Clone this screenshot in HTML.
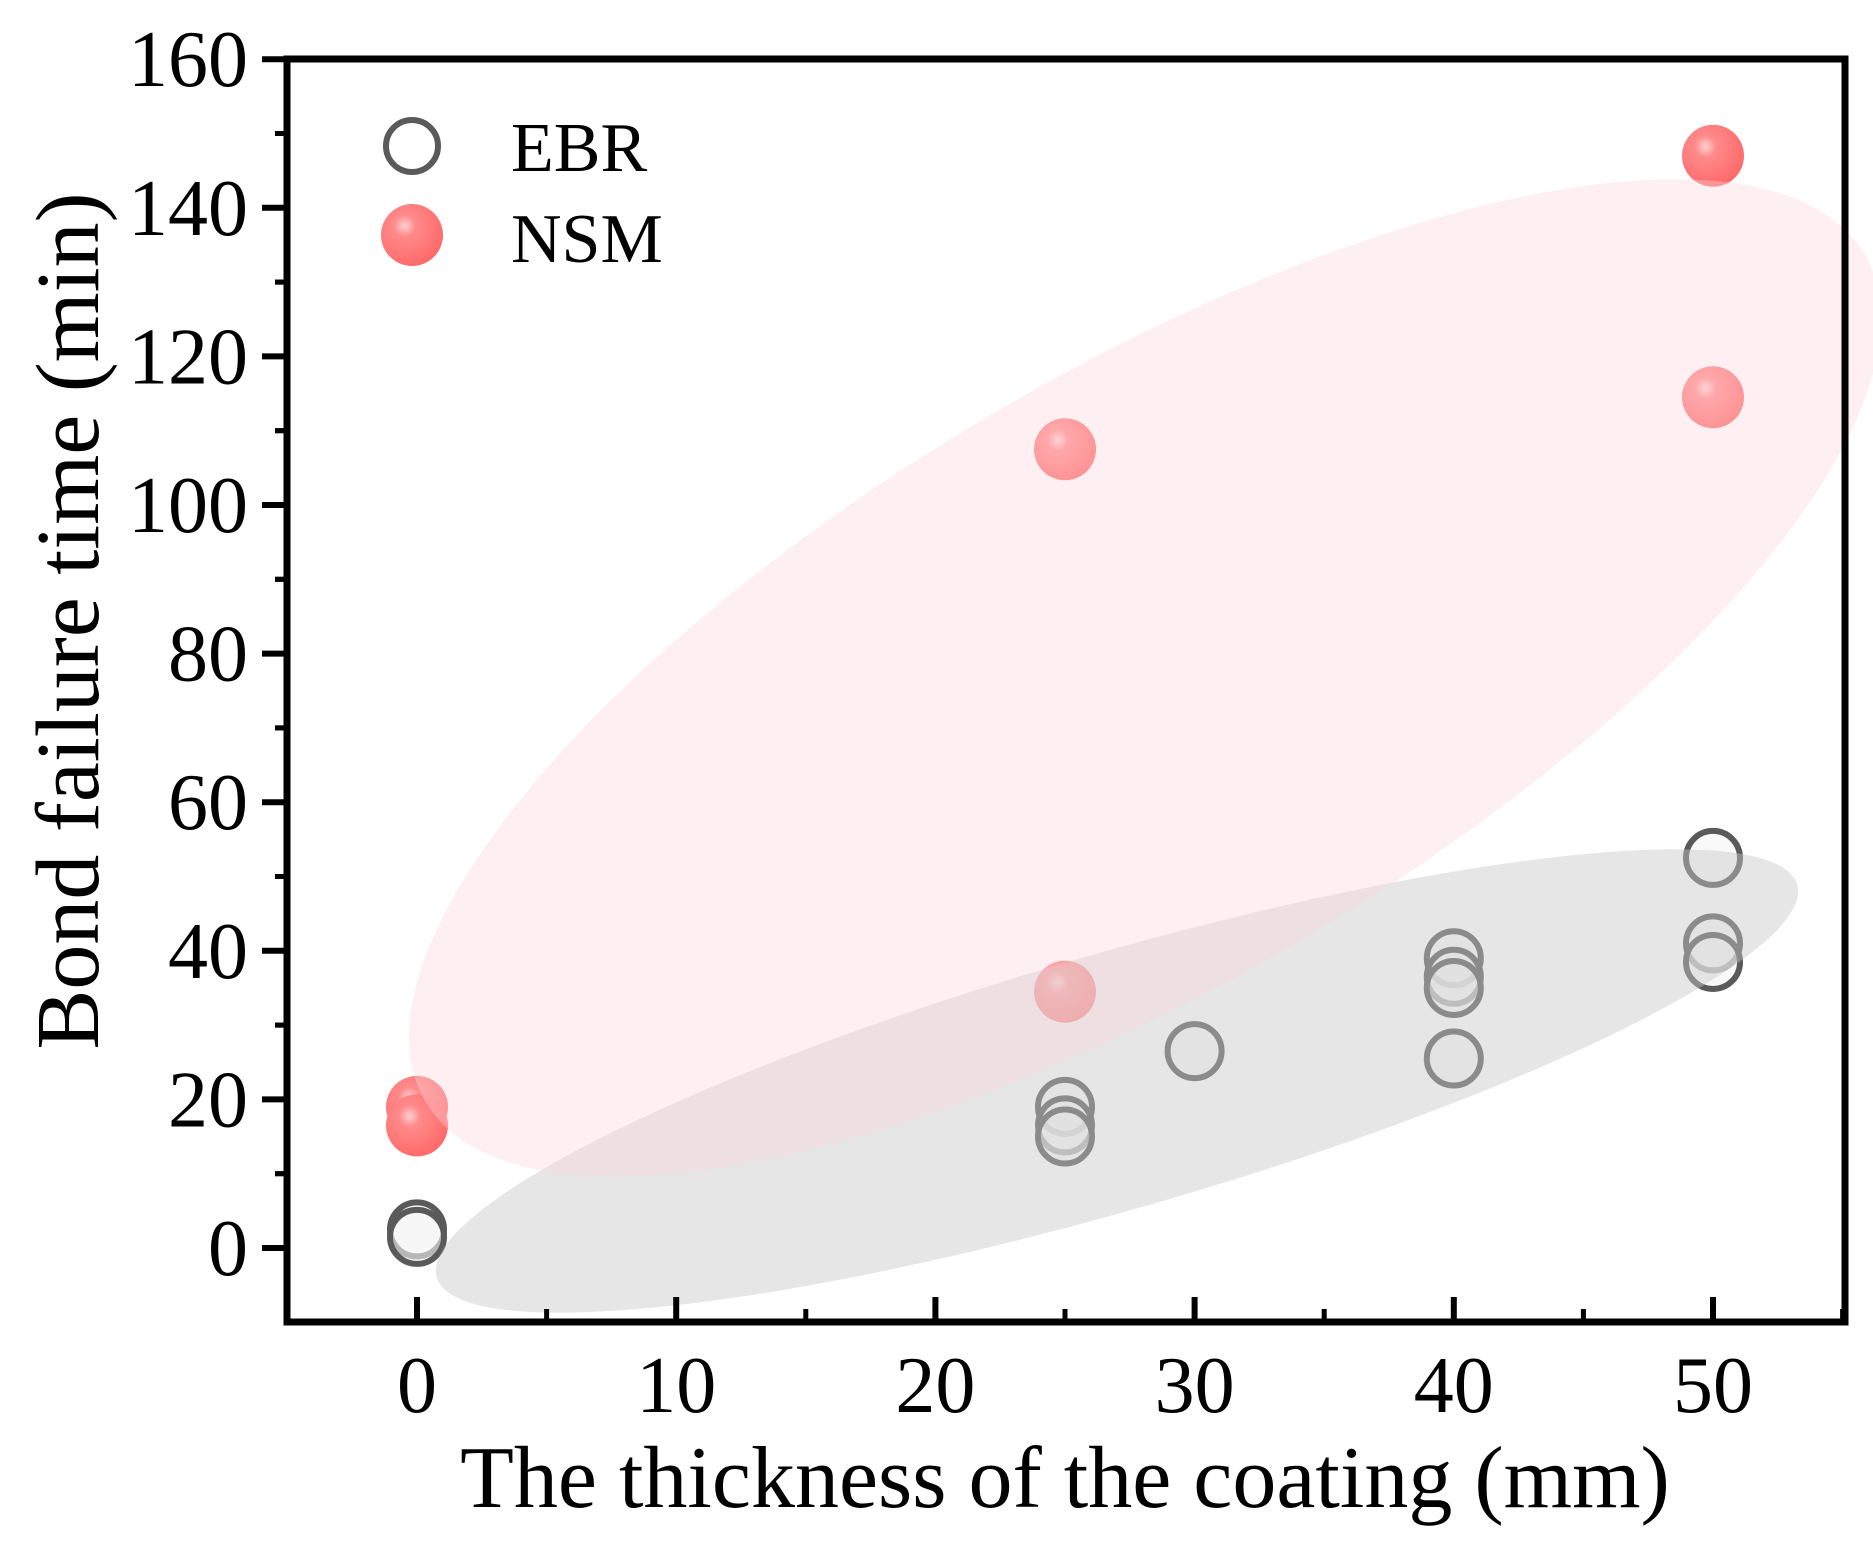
<!DOCTYPE html>
<html><head><meta charset="utf-8"><style>
html,body{margin:0;padding:0;background:#fff;}
svg{display:block;font-family:"Liberation Serif",serif;}
</style></head><body>
<svg id="chart" width="1873" height="1550" viewBox="0 0 1873 1550" xmlns="http://www.w3.org/2000/svg">
<defs>
<radialGradient id="redball" cx="0.38" cy="0.35" r="0.7">
<stop offset="0" stop-color="#ffd0d0"/>
<stop offset="0.25" stop-color="#ff8a8a"/>
<stop offset="1" stop-color="#ff6868"/>
</radialGradient>
</defs>
<g id="marks"></g>
<g id="overlays"></g>
<g id="axes"></g>
</svg>
<script>
const xTicks = [0, 10, 20, 30, 40, 50];
const yTicks = [0, 20, 40, 60, 80, 100, 120, 140, 160];
const ebrX = [0, 0, 25, 25, 25, 30, 40, 40, 40, 40, 50, 50, 50];
const ebrY = [2.5, 1.5, 19, 16.5, 15, 26.5, 39, 36.5, 35, 25.5, 52.5, 41, 38.5];
const nsmX = [0, 0, 25, 25, 50, 50];
const nsmY = [19, 16.5, 107.5, 34.5, 147, 114.5];

const NS = 'http://www.w3.org/2000/svg';
const L = 287, R = 1845, T = 59, B = 1322;
function xs(v){ return 417 + v * 25.92; }
function ys(v){ return 1248 - v * 7.43; }
function mk(tag, attrs, parent){
  const e = document.createElementNS(NS, tag);
  for (const k in attrs) e.setAttribute(k, attrs[k]);
  parent.appendChild(e); return e;
}
const marks = document.getElementById('marks');
const ov = document.getElementById('overlays');
const axes = document.getElementById('axes');

ebrX.forEach((x, i) => {
  const c = mk('circle', {cx: xs(x), cy: ys(ebrY[i]), r: 27, fill: 'rgba(245,245,245,0.6)', stroke: '#5a5a5a', 'stroke-width': 6}, marks);
  
  
});
nsmX.forEach((x, i) => {
  const c = mk('circle', {cx: xs(x), cy: ys(nsmY[i]), r: 31, fill: 'url(#redball)'}, marks);
  
  
});

const g1 = mk('ellipse', {cx: 1117, cy: 1081, rx: 708, ry: 128, transform: 'rotate(-16.1 1117 1081)', fill: 'rgba(200,200,200,0.45)'}, ov);


const p1 = mk('ellipse', {cx: 1145, cy: 678, rx: 835, ry: 305, transform: 'rotate(-30.5 1145 678)', fill: 'rgba(252,215,220,0.38)'}, ov);



const fr = mk('rect', {x: L, y: T, width: R - L, height: B - T, fill: 'none', stroke: '#000', 'stroke-width': 7}, axes);



xTicks.forEach(v => {
  const t = mk('line', {x1: xs(v), x2: xs(v), y1: B, y2: B - 25, stroke: '#000', 'stroke-width': 6}, axes);
  
  
  const m = mk('line', {x1: xs(v + 5), x2: xs(v + 5), y1: B, y2: B - 13, stroke: '#000', 'stroke-width': 5}, axes);
  
  
  const tx = mk('text', {x: xs(v), y: 1412, 'font-size': 80, 'text-anchor': 'middle'}, axes);
  tx.textContent = v;
  
  
});
yTicks.forEach(v => {
  const t = mk('line', {x1: L, x2: L - 25, y1: ys(v), y2: ys(v), stroke: '#000', 'stroke-width': 6}, axes);
  
  
  [v + 10, v - 10].forEach(mv => {
    if (ys(mv) > T + 5 && ys(mv) < B - 5) {
      const m = mk('line', {x1: L, x2: L - 12, y1: ys(mv), y2: ys(mv), stroke: '#000', 'stroke-width': 5}, axes);
      
      
    }
  });
  const tx = mk('text', {x: 248, y: ys(v) + 27, 'font-size': 80, 'text-anchor': 'end'}, axes);
  tx.textContent = v;
  
  
});

const xt = mk('text', {x: 1065, y: 1507, 'font-size': 88, 'text-anchor': 'middle'}, axes);
xt.textContent = 'The thickness of the coating (mm)';


const yt = mk('text', {x: 0, y: 0, 'font-size': 90, 'text-anchor': 'middle', transform: 'translate(98 621) rotate(-90)'}, axes);
yt.textContent = 'Bond failure time (min)';



const le1 = mk('circle', {cx: 412, cy: 146, r: 26, fill: '#fff', stroke: '#5a5a5a', 'stroke-width': 6}, axes);


const lt1 = mk('text', {x: 511, y: 171, 'font-size': 70}, axes);
lt1.textContent = 'EBR';


const le2 = mk('circle', {cx: 412, cy: 235, r: 31, fill: 'url(#redball)'}, axes);


const lt2 = mk('text', {x: 511, y: 262, 'font-size': 70}, axes);
lt2.textContent = 'NSM';


</script>
</body></html>
